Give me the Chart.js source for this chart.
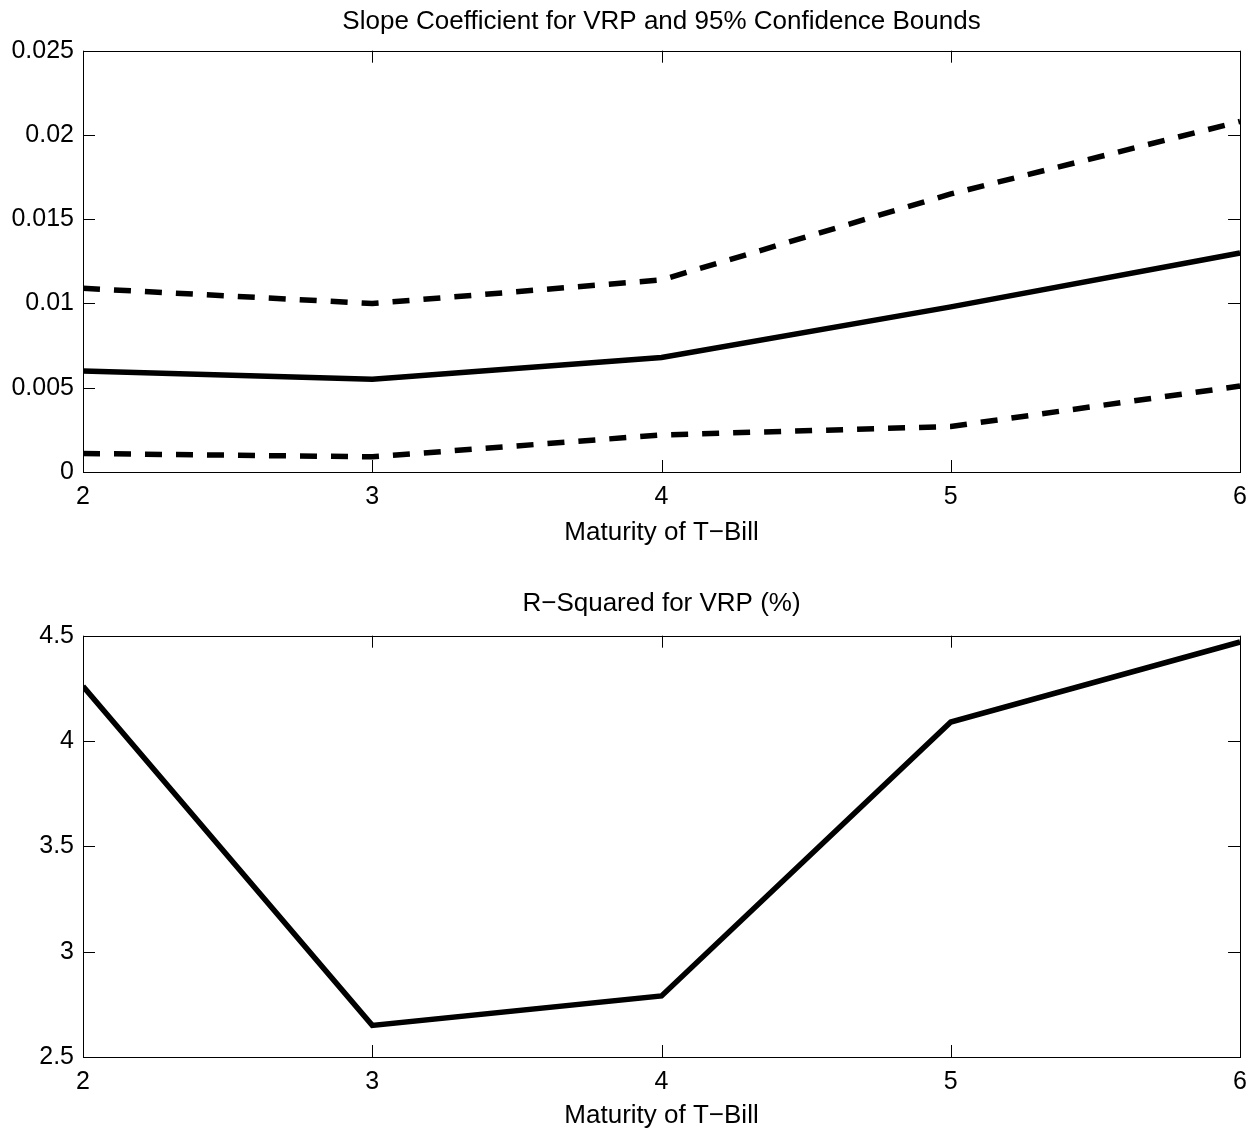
<!DOCTYPE html>
<html lang="en">
<head>
    <meta charset="UTF-8">
    <title>Slope Coefficient and R-Squared for VRP</title>
    <script src="https://cdn.jsdelivr.net/npm/chart.js"></script>
    <style>
        body {
            margin: 0;
            background: #ffffff;
            font-family: "Liberation Sans", Arial, sans-serif;
        }
        canvas {
            display: block;
        }
    </style>
</head>
<body>
    <canvas id="slopeChart" width="1257" height="568"></canvas>
    <canvas id="rsqChart" width="1257" height="567"></canvas>

    <script>
        // Maturity of T-Bill (x axis)
        const maturities = [2, 3, 4, 5, 6];

        // slope coefficient with 95% bounds
        const slopeValues = [0.0060, 0.0055, 0.0068, 0.0098, 0.0130];
        const upperBound  = [0.0109, 0.0100, 0.0114, 0.0165, 0.0208];
        const lowerBound  = [0.0011, 0.0009, 0.0022, 0.0027, 0.0051];

        // R-squared (%)
        const rsqValues = [4.26, 2.65, 2.79, 4.09, 4.47];

        const slopeTicks = [0, 0.005, 0.01, 0.015, 0.02, 0.025];
        const rsqTicks = [2.5, 3, 3.5, 4, 4.5];

        const FAMILY = '"Liberation Sans", Arial, sans-serif';
        const TICK_FONT = { family: FAMILY, size: 25 };
        const LABEL_FONT = { family: FAMILY, size: 26 };
        const TITLE_FONT = { family: FAMILY, size: 26, weight: 'normal' };

        function points(ys) {
            return maturities.map((x, i) => ({ x: x, y: ys[i] }));
        }

        // box round the plot area with inward tick marks on all four sides
        const boxTicks = {
            id: 'boxTicks',
            afterDatasetsDraw(chart) {
                const { ctx, chartArea: a, scales } = chart;
                const len = 12;
                ctx.save();
                ctx.strokeStyle = '#000';
                ctx.lineWidth = 1;
                ctx.beginPath();
                scales.x.ticks.forEach(t => {
                    const px = Math.round(scales.x.getPixelForValue(t.value)) + 0.5;
                    ctx.moveTo(px, a.bottom); ctx.lineTo(px, a.bottom - len);
                    ctx.moveTo(px, a.top); ctx.lineTo(px, a.top + len);
                });
                scales.y.ticks.forEach(t => {
                    const py = Math.round(scales.y.getPixelForValue(t.value)) + 0.5;
                    ctx.moveTo(a.left, py); ctx.lineTo(a.left + len, py);
                    ctx.moveTo(a.right, py); ctx.lineTo(a.right - len, py);
                });
                ctx.stroke();
                ctx.strokeRect(Math.round(a.left) + 0.5, Math.round(a.top) + 0.5,
                    Math.round(a.right - a.left), Math.round(a.bottom - a.top));
                ctx.restore();
            }
        };

        function lineSet(ys, dashed) {
            return {
                data: points(ys),
                borderColor: '#000',
                borderWidth: 5.5,
                borderDash: dashed ? [17, 14] : [],
                pointRadius: 0,
                tension: 0,
                fill: false
            };
        }

        function makeChart(id, opts) {
            return new Chart(document.getElementById(id), {
                type: 'line',
                data: { datasets: opts.datasets },
                options: {
                    responsive: false,
                    animation: false,
                    layout: { padding: { left: 0, right: 15, top: 0, bottom: 0 } },
                    plugins: {
                        legend: { display: false },
                        tooltip: { enabled: false },
                        title: {
                            display: true,
                            fullSize: false,
                            text: opts.title,
                            color: '#000',
                            font: TITLE_FONT,
                            padding: opts.titlePad
                        }
                    },
                    scales: {
                        x: {
                            type: 'linear',
                            min: 2,
                            max: 6,
                            afterFit: s => { s.height = opts.xHeight; },
                            afterBuildTicks: s => { s.ticks = maturities.map(v => ({ value: v })); },
                            grid: { display: false, drawTicks: false },
                            border: { display: false },
                            ticks: { color: '#000', font: TICK_FONT, padding: 10 },
                            title: {
                                display: true,
                                text: 'Maturity of T\u2212Bill',
                                color: '#000',
                                font: LABEL_FONT,
                                padding: opts.xTitlePad
                            }
                        },
                        y: {
                            min: opts.yTicks[0],
                            max: opts.yTicks[opts.yTicks.length - 1],
                            afterFit: s => { s.width = 83; },
                            afterBuildTicks: s => { s.ticks = opts.yTicks.map(v => ({ value: v })); },
                            grid: { display: false, drawTicks: false },
                            border: { display: false },
                            ticks: {
                                color: '#000',
                                font: TICK_FONT,
                                padding: 9,
                                callback: v => String(v)
                            }
                        }
                    }
                },
                plugins: [boxTicks]
            });
        }

        makeChart('slopeChart', {
            title: 'Slope Coefficient for VRP and 95% Confidence Bounds',
            titlePad: { top: 6, bottom: 13.5 },
            xHeight: 96,
            xTitlePad: { top: 0, bottom: 20 },
            yTicks: slopeTicks,
            datasets: [
                lineSet(slopeValues, false),
                lineSet(upperBound, true),
                lineSet(lowerBound, true)
            ]
        });

        makeChart('rsqChart', {
            title: 'R\u2212Squared for VRP (%)',
            titlePad: { top: 20, bottom: 16.5 },
            xHeight: 78,
            xTitlePad: { top: 0, bottom: 3.5 },
            yTicks: rsqTicks,
            datasets: [
                lineSet(rsqValues, false)
            ]
        });
    </script>
</body>
</html>
